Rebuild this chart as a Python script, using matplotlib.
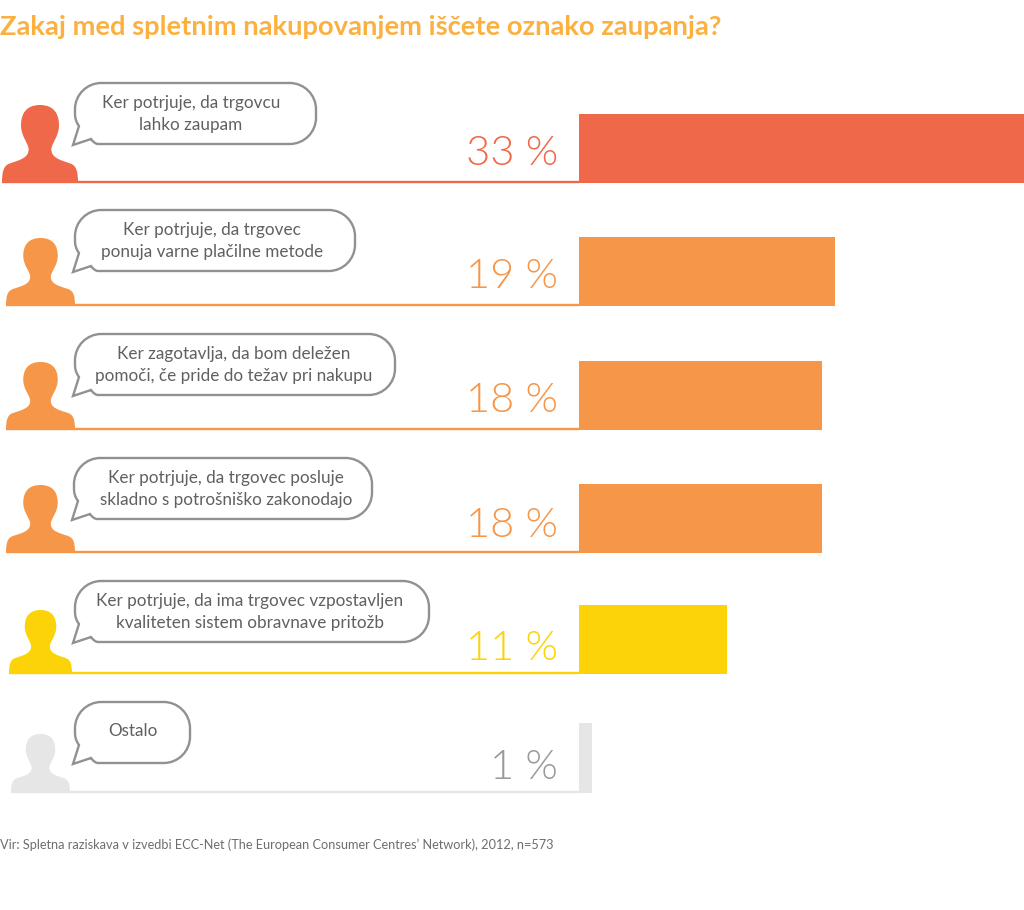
import matplotlib
matplotlib.use("Agg")
import matplotlib.pyplot as plt
from matplotlib.path import Path
from matplotlib.patches import PathPatch
from matplotlib import font_manager as fm

plt.rcParams['font.family'] = ['Lato', 'DejaVu Sans']

title = "Zakaj med spletnim nakupovanjem iščete oznako zaupanja?"
source = "Vir: Spletna raziskava v izvedbi ECC-Net (The European Consumer Centres’ Network), 2012, n=573"
answers = [
    "Ker potrjuje, da trgovcu\nlahko zaupam",
    "Ker potrjuje, da trgovec\nponuja varne plačilne metode",
    "Ker zagotavlja, da bom deležen\npomoči, če pride do težav pri nakupu",
    "Ker potrjuje, da trgovec posluje\nskladno s potrošniško zakonodajo",
    "Ker potrjuje, da ima trgovec vzpostavljen\nkvaliteten sistem obravnave pritožb",
    "Ostalo",
]
values = [33, 19, 18, 18, 11, 1]
colors = ["#EF6849", "#F69649", "#F69649", "#F69649", "#FCD309", "#E6E6E6"]
label_colors = ["#EF6849", "#F69649", "#F69649", "#F69649", "#FCD309", "#999999"]

# layout, in reference pixels
bar_top = [114, 237, 361, 484, 605, 723]
bar_bottom = [183, 306, 430, 553, 674, 793]
label_base = [165, 288, 412, 537, 660, 779]
person_box = [(2, 78, 105), (6, 75, 238), (6, 75, 362), (6, 75, 485), (9, 72, 610), (11, 70, 734)]
bubble_box = [(75, 316, 83), (75, 355, 210), (75, 395, 334), (74, 372, 458), (75, 429, 581), (75, 190, 702)]
text_cx = [191, 212, 234, 226, 250, 133]
BUBBLE_H = 61
X0, PX_PER = 579, 13.48
W, H = 1024, 910

# a real "light" face for the big percentages (not the hairline one)
light = None
for name in ("Lato-Light", "Roboto-Light", "OpenSans-Light"):
    hits = [f for f in fm.findSystemFonts() if name in f and "Italic" not in f]
    if hits:
        light = fm.FontProperties(fname=hits[0])
        break
if light is None:
    light = fm.FontProperties(family="Lato")
light.set_size(30)

fig = plt.figure(figsize=(W / 100, H / 100), dpi=100, facecolor="white")
ax = fig.add_axes([0, 0, 1, 1])
ax.set_xlim(-X0 / PX_PER, (W - X0) / PX_PER)
ax.set_ylim(H, 0)
ax.axis("off")

px = fig.add_axes([0, 0, 1, 1], facecolor="none")
px.set_xlim(0, W)
px.set_ylim(H, 0)
px.axis("off")


def person(x0, x1, top, bottom, color):
    w, h = x1 - x0, bottom - top
    half = [
        (0.50, 0.00),
        (0.68, 0.00), (0.75, 0.11), (0.75, 0.26),
        (0.75, 0.40), (0.66, 0.48), (0.65, 0.56),
        (0.64, 0.68), (0.78, 0.71), (0.90, 0.75),
        (0.98, 0.78), (1.00, 0.85), (1.00, 1.00),
    ]
    left = [(1 - x, y) for x, y in reversed(half)]
    verts = half + [(0.0, 1.0)] + left[1:]
    codes = [Path.MOVETO] + [Path.CURVE4] * 12 + [Path.LINETO] + [Path.CURVE4] * 12
    verts = [(x0 + x * w, top + y * h) for x, y in verts]
    px.add_patch(PathPatch(Path(verts, codes), fc=color, ec="none", zorder=3))


def bubble(x0, x1, top, h=BUBBLE_H):
    r = h * 0.43
    y1 = top + h
    k = 0.55
    L, C, M = Path.LINETO, Path.CURVE4, Path.MOVETO
    seq = [
        (M, (x0 + r, top)), (L, (x1 - r, top)),
        (C, (x1 - r + k * r, top)), (C, (x1, top + r - k * r)), (C, (x1, top + r)),
        (L, (x1, y1 - r)),
        (C, (x1, y1 - r + k * r)), (C, (x1 - r + k * r, y1)), (C, (x1 - r, y1)),
        (L, (x0 + 23, y1)),
        (C, (x0 + 21, y1)), (C, (x0 + 18, y1 - 2)), (C, (x0 + 16, y1 - 5)),
        (L, (x0 - 2, y1 + 1)),
        (L, (x0 + 4, y1 - 18)),
        (C, (x0 + 1, y1 - 22)), (C, (x0, y1 - 26)), (C, (x0, y1 - r - 4)),
        (L, (x0, top + r)),
        (C, (x0, top + r - k * r)), (C, (x0 + r - k * r, top)), (C, (x0 + r, top)),
        (Path.CLOSEPOLY, (x0 + r, top)),
    ]
    codes = [s[0] for s in seq]
    verts = [s[1] for s in seq]
    px.add_patch(PathPatch(Path(verts, codes), fc="white", ec="#8F9193", lw=1.7, zorder=4))


for i, val in enumerate(values):
    t, b = bar_top[i], bar_bottom[i]
    ax.barh((t + b) / 2, val, height=b - t, color=colors[i], linewidth=0)
    p = person_box[i]
    px.plot([p[0], X0], [b - 1.2, b - 1.2], color=colors[i], lw=1.7, solid_capstyle="butt", zorder=2)
    person(p[0], p[1], p[2], b, colors[i])
    bb = bubble_box[i]
    bubble(bb[0], bb[1], bb[2])
    px.text(text_cx[i], bb[2] + 31 if i < 5 else bb[2] + 29, answers[i], ha="center", va="center",
            fontsize=12.3, color="#5F6062", linespacing=1.5, zorder=5)
    px.text(558, label_base[i], f"{val} %", ha="right", va="baseline",
            fontproperties=light, color=label_colors[i])

px.text(0, 27, title, ha="left", va="center", fontsize=19.7, fontweight="bold", color="#FBB040")
px.text(0, 845, source, ha="left", va="center", fontsize=9.15, color="#6D6E70")

fig.savefig("out.png", dpi=100, facecolor="white")
